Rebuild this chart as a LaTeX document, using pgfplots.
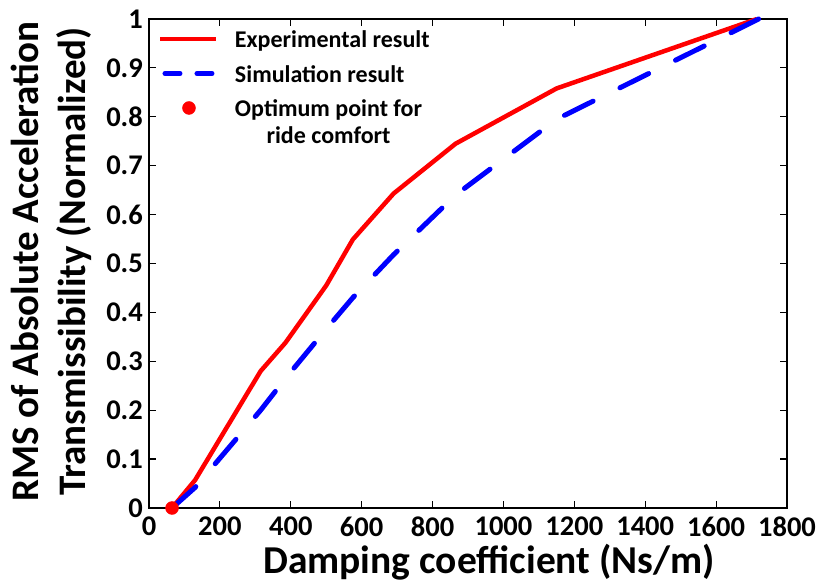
\documentclass[border=0pt]{standalone}
\usepackage{pgfplots}
\pgfplotsset{compat=1.18}
\usepackage{calc}
\usepackage{fontspec}
\setmainfont{Carlito}

\begin{document}
\begin{tikzpicture}
\begin{axis}[
  name=ax,
  scale only axis,
  width=638pt, height=489pt,
  xmin=0, xmax=1800, ymin=0, ymax=1,
  xtick={0,200,...,1800},
  ytick={0,0.1,0.2,0.3,0.4,0.5,0.6,0.7,0.8,0.9,1},
  yticklabels={0,0.1,0.2,0.3,0.4,0.5,0.6,0.7,0.8,0.9,1},
  /pgf/number format/1000 sep={},
  /pgf/number format/assume math mode=true,
  tick align=inside,
  major tick length=7pt,
  tick style={black, line width=1.2pt},
  axis line style={black, line width=1.8pt},
  ticklabel style={font=\bfseries\fontsize{28.5}{30}\selectfont, inner sep=0pt},
  xticklabel style={anchor=north, yshift=-9pt},
  yticklabel style={anchor=east, xshift=-6pt},
  xlabel={Damping coefficient (Ns/m)},
  xlabel style={font=\bfseries\fontsize{39.5}{44}\selectfont,
    at={(axis description cs:0.5,0)}, anchor=base, xshift=21pt, yshift=-66pt, inner sep=0pt},
  ylabel={RMS of Absolute Acceleration\\Transmissibility (Normalized)},
  ylabel style={font=\bfseries\fontsize{39}{47}\selectfont, align=center,
    at={(axis description cs:0,0.5)}, anchor=center, yshift=98pt, xshift=2pt, inner sep=0pt},
  clip=false,
  legend style={at={(0,1)}, anchor=north west, draw=none, fill=none,
    inner sep=0pt, outer sep=0pt,
    font=\bfseries\fontsize{24}{27}\selectfont,
    nodes={inner sep=0pt, text height=18pt, text depth=6pt},
    row sep=10.5pt, column sep=0pt, xshift=9pt, yshift=-11pt},
  legend cell align=left,
]
% measured transmissibility
\addplot[red, line width=4.5pt, line join=round,
  legend image code/.code={
    \draw[red, line width=4.5pt] (0pt,3pt)--(56pt,3pt);
    \path (72pt,0pt);}]
  coordinates {
  (65,0) (130,0.057) (315,0.28) (385,0.338) (500,0.455) (575,0.549)
  (690,0.643) (865,0.745) (1150,0.858) (1715,1.0)
};
\addlegendentry{Experimental result}
% model prediction
\addplot[blue, line width=5pt, line cap=round, dash pattern=on 32pt off 30pt,
  legend image code/.code={
    \draw[blue, line width=5pt, line cap=round, dash pattern=on 15pt off 17pt] (4.5pt,3pt)--(52pt,3pt);
    \path (0pt,0pt) (72pt,0pt);}]
  coordinates {
  (65,0) (130,0.042) (315,0.2) (385,0.265) (500,0.366) (575,0.43)
  (690,0.518) (865,0.64) (1150,0.795) (1720,1.0)
};
\addlegendentry{Simulation result}
% best ride comfort
\addplot[only marks, mark=*, mark size=6.5pt, color=red,
  legend image code/.code={
    \fill[red] (28.5pt,3pt) circle (6.5pt);
    \path (0pt,0pt) (72pt,0pt);}]
  coordinates {(65,0)};
\addlegendentry{Optimum point for}
\addlegendimage{empty legend}
\addlegendentry{\raisebox{7.5pt}{\makebox[\widthof{Optimum point for}]{ride comfort}}}
\end{axis}
\pgfresetboundingbox
\path[use as bounding box] ([shift={(-149pt,-78pt)}]ax.south west) rectangle ([shift={(38pt,19pt)}]ax.north east);
\end{tikzpicture}
\end{document}
